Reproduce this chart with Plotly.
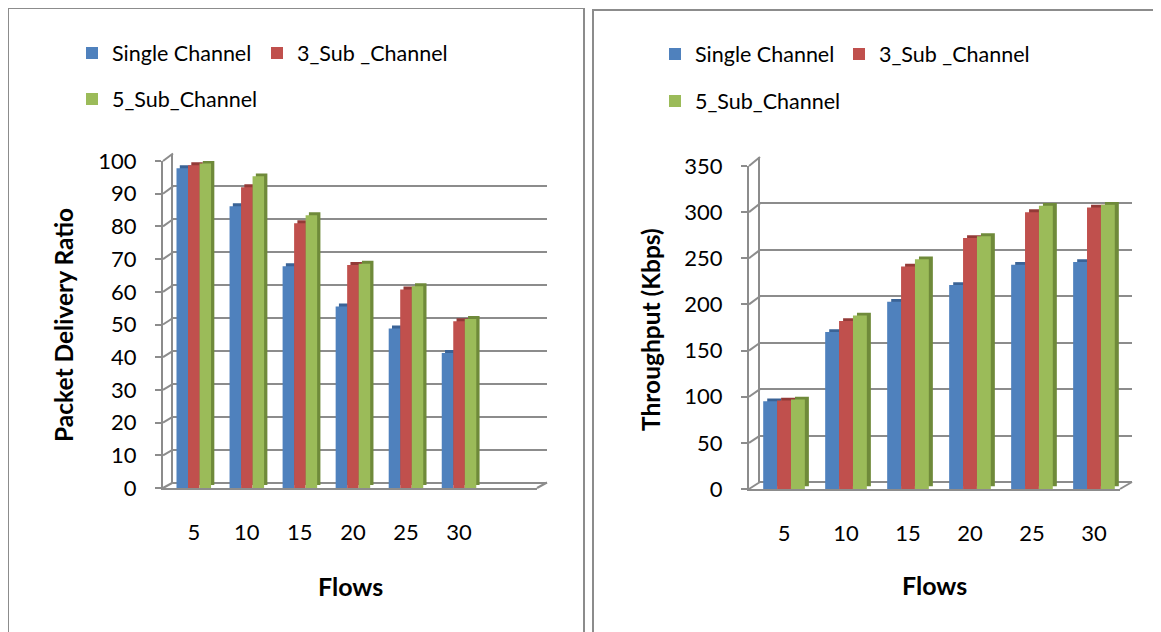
import plotly.graph_objects as go

# ---------------- data ----------------
flows = ["5", "10", "15", "20", "25", "30"]
series_names = ["Single Channel", "3_Sub _Channel", "5_Sub_Channel"]
pdr_single = [97.8, 86.2, 67.8, 55.5, 48.8, 41.3]
pdr_3sub = [98.7, 92.0, 81.0, 68.2, 60.7, 51.0]
pdr_5sub = [99.2, 95.3, 83.4, 68.6, 61.7, 51.7]
thr_single = [95, 170, 203, 221, 243, 246]
thr_3sub = [96, 182, 241, 272, 300, 305]
thr_5sub = [97, 188, 249, 274, 307, 308]
pdr_ticks = [0, 10, 20, 30, 40, 50, 60, 70, 80, 90, 100]
thr_ticks = [0, 50, 100, 150, 200, 250, 300, 350]

face_colors = ["#4F81BD", "#C0504D", "#9BBB59"]
side_colors = ["#3A6396", "#933A37", "#6F8A3A"]
GRID = "#8C8C8C"
FONT = "Lato"
W, H = 1161, 632
OFF = 8  # page body margin of the html page


def px(x):
    return (x - OFF) / W


def py(y):
    return 1 - (y - OFF) / H


fig = go.Figure()

panels = [
    dict(front=(163, 537, 488, 161), back=(173, 547, 482.5, 153.5), rng=(-0.58, 6.47),
         ymax=100, ticks=pdr_ticks, data=[pdr_single, pdr_3sub, pdr_5sub],
         bw=0.217, sdx=0.062, sdy=0.9, title="Packet Delivery Ratio",
         ytitle=(63, 325), xtitle=(350.5, 586),
         legend_pos=[(72, 53), (257, 53), (72, 99)]),
    dict(front=(749, 1120, 489, 166), back=(760, 1132, 482, 157), rng=(-0.565, 5.42),
         ymax=350, ticks=thr_ticks, data=[thr_single, thr_3sub, thr_5sub],
         bw=0.224, sdx=0.065, sdy=3.0, title="Throughput (Kbps)",
         ytitle=(650, 329), xtitle=(934.7, 585),
         legend_pos=[(655, 54), (839, 54), (655, 101)]),
]

layout = dict()
shapes = []
annotations = []
legend_id = 1
for p_i, p in enumerate(panels):
    bx = 2 * p_i + 1
    fx = 2 * p_i + 2
    bxs = "" if bx == 1 else str(bx)
    fxs = str(fx)
    fl, fr, fb, ft = p["front"]
    bl, br, bb, bt = p["back"]
    # back wall (gridlines)
    layout["xaxis" + bxs] = dict(domain=[px(bl), px(br)], range=[0, 1], visible=False,
                                 anchor="y" + bxs)
    layout["yaxis" + bxs] = dict(domain=[py(bb), py(bt)], range=[0, p["ymax"]],
                                 tickvals=p["ticks"], showticklabels=False, ticks="",
                                 showgrid=True, gridcolor=GRID, gridwidth=2,
                                 zeroline=True, zerolinecolor=GRID, zerolinewidth=2,
                                 showline=True, linecolor=GRID, linewidth=2,
                                 anchor="x" + bxs)
    fig.add_trace(go.Scatter(x=[], y=[], xaxis="x" + bxs, yaxis="y" + bxs,
                             showlegend=False, hoverinfo="skip"))
    # front axes
    layout["xaxis" + fxs] = dict(domain=[px(fl), px(fr)], range=list(p["rng"]),
                                 tickvals=list(range(len(flows))), ticktext=flows,
                                 showgrid=False, zeroline=False, ticks="",
                                 showline=True, linecolor=GRID, linewidth=2,
                                 ticklabelstandoff=24,
                                 tickfont=dict(family=FONT, size=22, color="black"),
                                 anchor="y" + fxs)
    layout["yaxis" + fxs] = dict(domain=[py(fb), py(ft)], range=[0, p["ymax"]],
                                 tickvals=p["ticks"], showgrid=False, zeroline=False,
                                 ticks="outside", ticklen=6, tickwidth=2, tickcolor=GRID,
                                 showline=True, linecolor=GRID, linewidth=2,
                                 ticklabelstandoff=14,
                                 tickfont=dict(family=FONT, size=22, color="black"),
                                 anchor="x" + fxs)
    w = p["bw"]
    xs = list(range(len(flows)))
    for k in range(3):
        off = -1.5 * w + k * w
        vals = p["data"][k]
        fig.add_trace(go.Bar(x=xs, y=vals, base=p["sdy"], offset=off + p["sdx"], width=w,
                             marker=dict(color=side_colors[k], line_width=0),
                             xaxis="x" + fxs, yaxis="y" + fxs, showlegend=False,
                             hoverinfo="skip"))
        lg = "legend" if legend_id == 1 else "legend" + str(legend_id)
        fig.add_trace(go.Bar(x=xs, y=vals, offset=off, width=w, name=series_names[k],
                             marker=dict(color=face_colors[k], line_width=0),
                             xaxis="x" + fxs, yaxis="y" + fxs, showlegend=True,
                             legend=lg))
        lx, ly = p["legend_pos"][k]
        layout[lg] = dict(x=px(lx), y=py(ly), xanchor="left", yanchor="middle",
                          orientation="h", bgcolor="rgba(0,0,0,0)", borderwidth=0,
                          itemwidth=30, font=dict(family=FONT, size=21.5, color="black"))
        legend_id += 1
    # 3D connectors (front tick -> back wall) and floor edge
    fy = lambda v: fb + (ft - fb) * v / p["ymax"]
    by = lambda v: bb + (bt - bb) * v / p["ymax"]
    for t in p["ticks"]:
        shapes.append(dict(type="line", xref="paper", yref="paper",
                           x0=px(fl), y0=py(fy(t)), x1=px(bl), y1=py(by(t)),
                           line=dict(color=GRID, width=2)))
    shapes.append(dict(type="line", xref="paper", yref="paper",
                       x0=px(fr), y0=py(fb), x1=px(br), y1=py(bb),
                       line=dict(color=GRID, width=2)))
    annotations.append(dict(text="<b>" + p["title"] + "</b>", xref="paper", yref="paper",
                            x=px(p["ytitle"][0]), y=py(p["ytitle"][1]), textangle=-90,
                            showarrow=False, xanchor="center", yanchor="middle",
                            font=dict(family=FONT, size=24.5, color="black")))
    annotations.append(dict(text="<b>Flows</b>", xref="paper", yref="paper",
                            x=px(p["xtitle"][0]), y=py(p["xtitle"][1]),
                            showarrow=False, xanchor="center", yanchor="middle",
                            font=dict(family=FONT, size=25, color="black")))

# panel borders
shapes.append(dict(type="rect", xref="paper", yref="paper", x0=px(8), x1=px(584),
                   y0=py(660), y1=py(8), line=dict(color=GRID, width=2), layer="below"))
shapes.append(dict(type="rect", xref="paper", yref="paper", x0=px(593), x1=px(1185),
                   y0=py(660), y1=py(10), line=dict(color=GRID, width=2), layer="below"))

fig.update_layout(**layout)
fig.update_layout(barmode="overlay", width=W, height=H,
                  margin=dict(l=0, r=0, t=0, b=0, autoexpand=False),
                  paper_bgcolor="white", plot_bgcolor="rgba(0,0,0,0)",
                  shapes=shapes, annotations=annotations,
                  font=dict(family=FONT, color="black"))
fig.write_html("out.html")
